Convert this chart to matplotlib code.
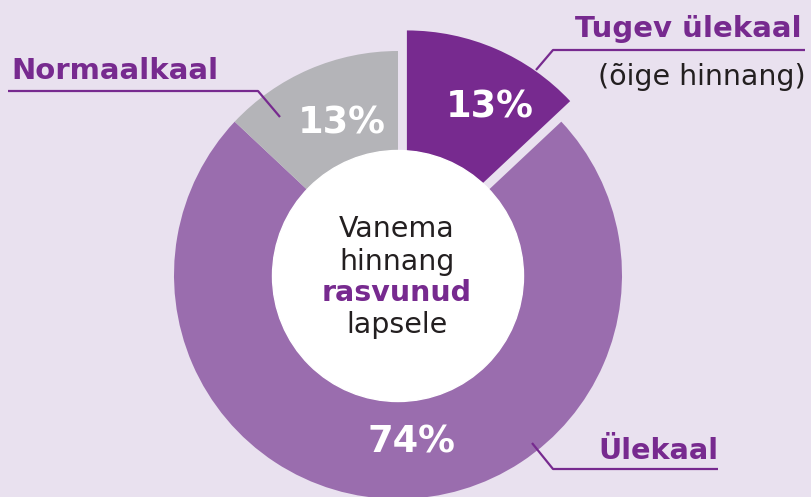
import numpy as np
import matplotlib
matplotlib.use('Agg')
from matplotlib import pyplot as plt

plt.rcParams['font.family'] = ['DejaVu Sans']

# data
labels = ['Tugev ülekaal', 'Ülekaal', 'Normaalkaal']
values = [13, 74, 13]
pct_labels = ['13%', '74%', '13%']
explode = [0.10, 0, 0]
colors = ['#772A8F', '#9A6DAE', '#B4B4B8']

bg = '#E9E1EF'
purple = '#772A8F'
W, H = 812, 497


def Y(y):
    # pixel row -> data y
    return H - y


fig = plt.figure(figsize=(W / 100, H / 100), dpi=100, facecolor=bg)
ax = fig.add_axes([0, 0, 1, 1])
ax.set_facecolor(bg)

cx, cy, R = 398, 275, 224
ax.pie(values, colors=colors, startangle=90, counterclock=False,
       explode=[e * R for e in explode], radius=R, center=(cx, Y(cy)),
       wedgeprops=dict(linewidth=0))
ax.add_patch(plt.Circle((cx, Y(cy + 1)), 125.5, color='white', zorder=3))

ax.set_xlim(0, W)
ax.set_ylim(0, H)
ax.set_aspect('equal')
ax.axis('off')

# percentages
pct_pos = [(490, 118), (411, 453), (342, 133)]
for t, (x, y) in zip(pct_labels, pct_pos):
    ax.text(x, Y(y), t, color='white', fontsize=26.5, fontweight='bold',
            ha='center', va='baseline', zorder=4)

# centre text
centre = [('Vanema', 237, 'normal', '#231F20'),
          ('hinnang', 270, 'normal', '#231F20'),
          ('rasvunud', 301, 'bold', purple),
          ('lapsele', 333, 'normal', '#231F20')]
for t, y, w, c in centre:
    ax.text(397, Y(y), t, fontsize=20.5, fontweight=w, color=c,
            ha='center', va='baseline', zorder=4)

# category labels and leader lines
ax.text(802, Y(37), labels[0], fontsize=21, fontweight='bold', color=purple,
        ha='right', va='baseline')
ax.text(806, Y(85), '(õige hinnang)', fontsize=20.5, color='#231F20',
        ha='right', va='baseline')
ax.plot([536, 553, 805], [Y(70), Y(50), Y(50)], color=purple, lw=1.6,
        solid_capstyle='butt', zorder=5)

ax.text(11, Y(79), labels[2], fontsize=21, fontweight='bold', color=purple,
        ha='left', va='baseline')
ax.plot([8, 258, 280], [Y(91), Y(91), Y(117)], color=purple, lw=1.6,
        solid_capstyle='butt', zorder=5)

ax.text(598, Y(459), labels[1], fontsize=20.7, fontweight='bold', color=purple,
        ha='left', va='baseline')
ax.plot([532, 553, 718], [Y(443), Y(469), Y(469)], color=purple, lw=1.6,
        solid_capstyle='butt', zorder=5)

fig.savefig('out.png', dpi=100, facecolor=bg)
